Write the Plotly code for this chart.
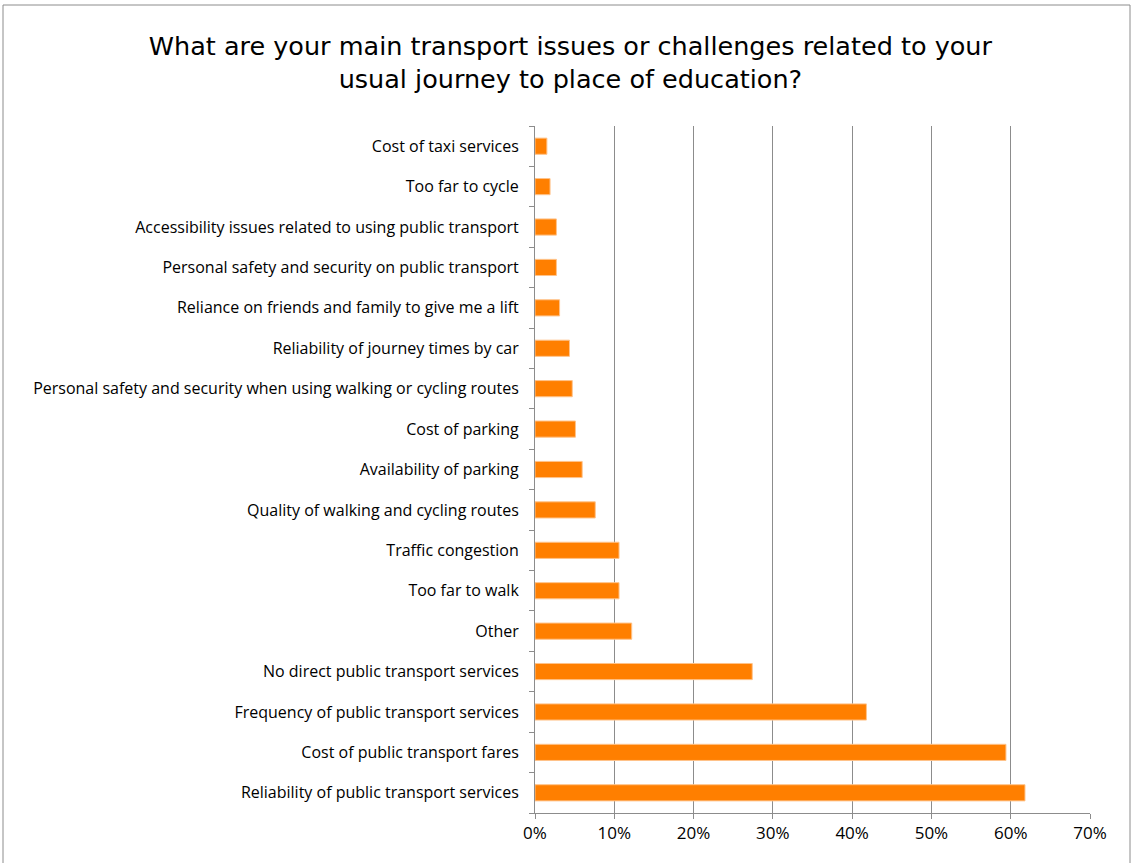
import plotly.graph_objects as go

# Survey responses, listed from bottom to top of the chart
issues = [
    "Reliability of public transport services",
    "Cost of public transport fares",
    "Frequency of public transport services",
    "No direct public transport services",
    "Other",
    "Too far to walk",
    "Traffic congestion",
    "Quality of walking and cycling routes",
    "Availability of parking",
    "Cost of parking",
    "Personal safety and security when using walking or cycling routes",
    "Reliability of journey times by car",
    "Reliance on friends and family to give me a lift",
    "Personal safety and security on public transport",
    "Accessibility issues related to using public transport",
    "Too far to cycle",
    "Cost of taxi services",
]
share = [0.618, 0.594, 0.418, 0.274, 0.122, 0.106, 0.106, 0.076, 0.0595,
         0.051, 0.047, 0.0435, 0.031, 0.027, 0.027, 0.019, 0.015]

x_ticks = [0, 0.1, 0.2, 0.3, 0.4, 0.5, 0.6, 0.7]

fig = go.Figure(go.Bar(
    x=share,
    y=issues,
    orientation="h",
    width=0.4,
    marker=dict(color="#FF7F00", line=dict(color="#FFC38A", width=1)),
))

grid = "#8C8C8C"
fig.update_layout(
    width=1134,
    height=863,
    paper_bgcolor="white",
    plot_bgcolor="white",
    showlegend=False,
    margin=dict(l=535, r=44, t=126, b=50),
    title=dict(
        text="What are your main transport issues or challenges related to your<br>usual journey to place of education?",
        x=0.503, xanchor="center",
        y=0.9368, yanchor="middle", yref="container",
        font=dict(family="DejaVu Sans", size=25.5, color="#000000"),
    ),
    font=dict(family="Open Sans", size=16, color="#000000"),
    xaxis=dict(
        range=[0, 0.7],
        tickvals=x_ticks,
        tickformat=".0%",
        showgrid=True, gridcolor=grid, gridwidth=1,
        showline=True, linecolor=grid, linewidth=1,
        ticks="outside", ticklen=5, tickcolor=grid,
        zeroline=False,
        tickfont=dict(size=17),
    ),
    yaxis=dict(
        categoryorder="array", categoryarray=issues,
        tickson="boundaries",
        ticks="outside", ticklen=5, tickcolor=grid,
        showline=True, linecolor=grid, linewidth=1,
        showgrid=False,
        ticklabelstandoff=12,
        tickfont=dict(size=16),
    ),
    shapes=[dict(
        type="rect", xref="paper", yref="paper",
        x0=-535 / 555 + 3 / 555, x1=1 + 40 / 555,
        y0=-0.2, y1=1 + 121 / 687,
        line=dict(color="#8C8C8C", width=1),
        fillcolor="rgba(0,0,0,0)",
    )],
)

fig.write_html("out.html")
